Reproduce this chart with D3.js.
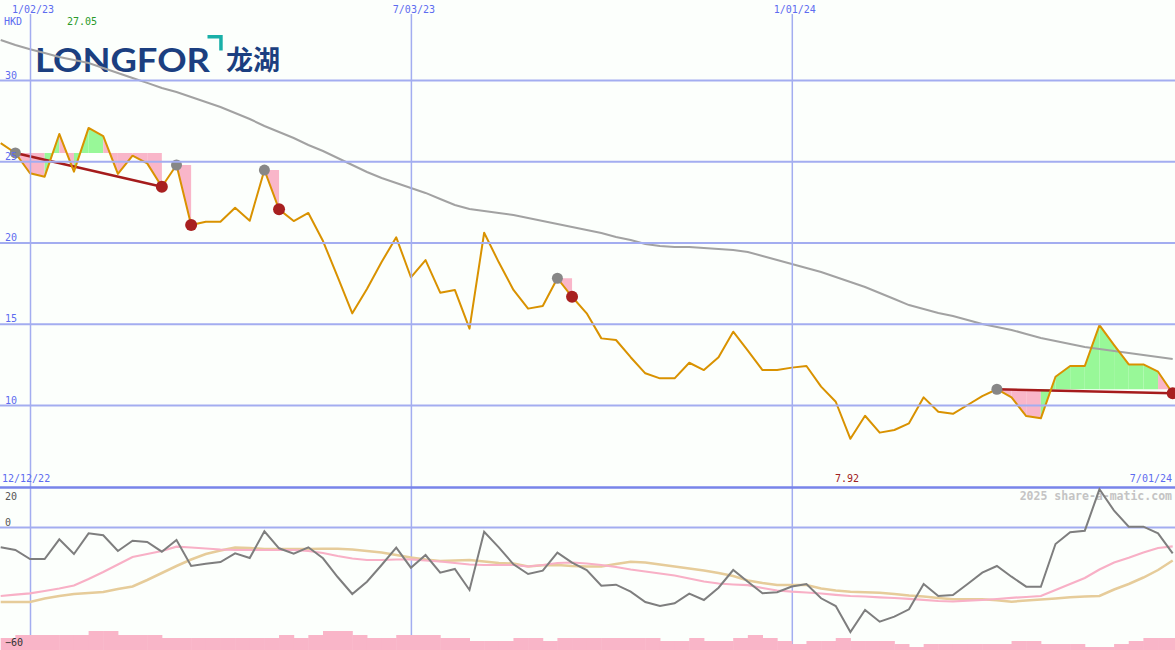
<!DOCTYPE html>
<html><head><meta charset="utf-8">
<script src="https://cdn.jsdelivr.net/npm/d3@7"></script>
<style>
html,body{margin:0;padding:0;background:#fcfffc;}
svg{display:block;}
</style></head><body>
<svg id="c" width="1175" height="650"></svg>
<script>
// ---- data (weekly, week index relative to 1/02/23) ----
const weeks = d3.range(-2, 79);
const price = [
 26.12, 25.51, 24.26, 24.05, 26.68, 24.36, 27.05, 26.55, 24.22, 25.34,
 24.87, 23.43, 24.77, 21.08, 21.28, 21.28, 22.14, 21.34, 24.46, 22.04,
 21.32, 21.82, 20.09, 17.88, 15.64, 17.14, 18.80, 20.32, 17.86, 18.92,
 16.91, 17.08, 14.70, 20.60, 18.78, 17.08, 15.93, 16.09, 17.80, 16.66,
 15.64, 14.10, 14.00, 12.94, 11.95, 11.64, 11.64, 12.60, 12.15, 12.94,
 14.51, 13.34, 12.15, 12.15, 12.30, 12.40, 11.13, 10.20, 7.92, 9.34,
 8.30, 8.46, 8.87, 10.47, 9.59, 9.46, 10.00, 10.55, 10.97, 10.47,
 9.32, 9.18, 11.74, 12.40, 12.40, 14.92, 13.69, 12.50, 12.50, 12.05,
 10.72];
const movingAvg = [
 32.46, 32.15, 31.89, 31.66, 31.42, 31.23, 31.05, 30.74, 30.43, 30.12,
 29.82, 29.51, 29.26, 28.95, 28.65, 28.34, 27.97, 27.60, 27.17, 26.80,
 26.43, 26.00, 25.63, 25.20, 24.77, 24.34, 23.97, 23.66, 23.35, 23.05,
 22.68, 22.31, 22.06, 21.94, 21.82, 21.69, 21.51, 21.32, 21.14, 20.95,
 20.77, 20.58, 20.34, 20.15, 19.91, 19.78, 19.72, 19.72, 19.66, 19.60,
 19.54, 19.42, 19.17, 18.92, 18.68, 18.43, 18.18, 17.88, 17.57, 17.26,
 16.89, 16.52, 16.15, 15.91, 15.66, 15.48, 15.23, 14.98, 14.80, 14.62,
 14.37, 14.12, 13.94, 13.75, 13.57, 13.45, 13.32, 13.20, 13.08, 12.95,
 12.83];
const oscillator = [
 -10.15, -11.5, -16, -16, -6.15, -13.5, -3.15, -4.15, -12, -6.85,
 -7.5, -12.35, -6.5, -19.5, -18.35, -17.5, -13.15, -15.5, -2.15, -10.65,
 -13.35, -10.15, -15.65, -25, -33.5, -27.35, -19, -10.35, -20.35, -14,
 -22.85, -21, -31.5, -2.35, -10.15, -18.65, -23.5, -21.85, -12.85, -17.85,
 -21.5, -29.35, -28.85, -32.35, -37.5, -39.5, -38.15, -33.35, -36.5, -30.35,
 -21.5, -27.35, -33.15, -32.65, -29.75, -28.5, -35.65, -39.5, -52.5, -41.5,
 -47.35, -44.85, -41.15, -28.5, -34.5, -34, -28.5, -22.85, -19.5, -24.85,
 -29.85, -29.85, -8.5, -2.65, -1.85, 18.85, 8.15, 0.15, 0.15, -3.15,
 -13.15];
const oscFast = [
 -34.5, -33.85, -33.15, -32, -30.75, -29.25, -26, -22.5, -18.75, -15,
 -13.5, -12, -9.85, -10.25, -10.75, -11.25, -11.5, -11.5, -11.5, -11.5,
 -11.5, -12, -13, -14.5, -15.75, -16.5, -16.5, -16.25, -16.15, -16.75,
 -17.25, -18, -18.75, -19, -19, -19, -19.75, -19, -18, -17.75,
 -18.25, -19, -20, -21.25, -22.25, -23.25, -24.25, -25.75, -27.25, -28.25,
 -28.75, -29.1, -30.5, -31.75, -32.35, -32.75, -33.25, -33.9, -34.5, -34.75,
 -35.15, -35.5, -35.9, -36.4, -37, -37.25, -36.85, -36.5, -36, -35.4,
 -35, -34.5, -31.5, -28.5, -25.5, -21.25, -17.75, -15.35, -12.75, -10.5,
 -9.65];
const oscSlow = [
 -37.5, -37.5, -37.5, -35.75, -34.5, -33.5, -33, -32.5, -31, -29.75,
 -26.5, -23, -19.5, -16.25, -13.5, -11.75, -10.25, -10.5, -11, -11,
 -11, -11, -10.9, -10.85, -11.25, -12, -12.75, -14, -15.25, -16.25,
 -17, -16.75, -16.5, -17.25, -18, -18.25, -19.75, -19.15, -19, -19.5,
 -19.75, -19.75, -18.5, -17.35, -17.75, -18.75, -19.75, -20.75, -21.75, -23,
 -24.5, -26.75, -28, -29, -29, -29, -30.75, -31.75, -32.4, -32.65,
 -32.85, -33.5, -34.25, -34.75, -35.5, -36.15, -36.15, -36.15, -36.6, -37.35,
 -36.75, -36.25, -35.75, -35.15, -34.75, -34.5, -31.25, -28.5, -25.25, -21.5,
 -16.75];
const volume = [
 12, 15, 15, 15, 15, 15, 19, 19, 15, 15,
 15, 12, 12, 12, 12, 12, 12, 12, 12, 15,
 12, 15, 19, 19, 15, 12, 12, 15, 15, 15,
 12, 12, 9, 9, 9, 12, 12, 9, 12, 12,
 12, 12, 12, 12, 12, 9, 9, 12, 9, 9,
 12, 15, 12, 9, 6, 9, 9, 12, 9, 9,
 9, 6, 3, 6, 6, 6, 6, 6, 6, 9,
 9, 6, 6, 6, 3, 3, 6, 9, 12, 12,
 12];
// signal windows: [start week (peak), end week (low)]
const signals = [[-1, 9], [10, 11], [16, 17], [36, 37], [66, 78]];
const priceTicks = [10, 15, 20, 25, 30];
const dateTickWeeks = [0, 26, 52];
const dateTickLabels = ["1/02/23", "7/03/23", "1/01/24"];
const oscTicks = [20, 0, -60];
const startLabel = "12/12/22", endLabel = "7/01/24";
const highLabel = "27.05", lowLabel = "7.92", currency = "HKD";
const watermark = "2025 share-a-matic.com";

// ---- drawing ----
const W = 1175, H = 650;
const svg = d3.select("#c");
const P = i => price[i];
const idx = k => k + 2;

svg.append("rect").attr("width", W).attr("height", H).attr("fill", "#fcfffc");

const x = d3.scaleLinear().domain([-2, 78]).range([0.7, 1172.7]);
const y = d3.scaleLinear().domain([10, 30]).range([405, 80]);
const y2 = d3.scaleLinear().domain([-60, 20]).range([647, 487]);
const yv = d3.scaleLinear().domain([0, 20]).range([650, 630]);

const mono = "'DejaVu Sans Mono', 'Liberation Mono', monospace";
const blue = "#5d6cf0";

svg.append("defs").append("clipPath").attr("id", "topclip")
  .append("rect").attr("x", 0).attr("y", 0).attr("width", W).attr("height", 486);

const topG = svg.append("g").attr("clip-path", "url(#topclip)");

// logo
const logo = topG.append("g");
logo.append("text").attr("x", 35).attr("y", 71.7)
  .attr("font-family", "Lato, 'Open Sans', sans-serif").attr("font-weight", 700)
  .attr("font-size", 33).attr("fill", "#1b3f80")
  .attr("textLength", 175).attr("lengthAdjust", "spacingAndGlyphs")
  .text("LONGFOR");
logo.append("path").attr("d", "M207.5,35 H222.7 V50.5 H219.2 V38.5 H207.5 Z").attr("fill", "#19b0a8");
logo.append("text").attr("x", 226).attr("y", 69.5)
  .attr("font-family", "'Noto Sans CJK SC', sans-serif").attr("font-weight", 700)
  .attr("font-size", 27).attr("fill", "#1b3f80")
  .attr("textLength", 54).attr("lengthAdjust", "spacingAndGlyphs")
  .text("龙湖");

// signal fills
const fills = topG.append("g");
signals.forEach(([a, b]) => {
  const level = P(idx(a));
  for (let k = a; k < b; k++) {
    const p0 = P(idx(k)), p1 = P(idx(k + 1));
    fills.append("path")
      .attr("d", d3.line()([[x(k), y(level)], [x(k), y(p0)], [x(k + 1), y(p1)], [x(k + 1), y(level)]]) + "Z")
      .attr("fill", p1 > level ? "#98f898" : "#f9b6c9")
      .attr("stroke", "none");
  }
});

// price gridlines and labels
const gy = svg.append("g").call(d3.axisLeft(y).tickValues(priceTicks).tickSize(-W).tickFormat(d3.format("d")));
gy.select(".domain").remove();
gy.selectAll(".tick line").attr("stroke", "#a3adf0").attr("stroke-width", 2);
gy.selectAll(".tick text").attr("x", 5).attr("dy", -2).attr("text-anchor", "start")
  .attr("fill", blue).attr("font-family", mono).attr("font-size", 10);

// vertical date gridlines
const gx = svg.append("g").attr("transform", "translate(0,14)")
  .call(d3.axisBottom(x).tickValues(dateTickWeeks).tickSize(H - 14)
    .tickFormat((d, i) => dateTickLabels[i]));
gx.select(".domain").remove();
gx.selectAll(".tick line").attr("stroke", "#a3adf0").attr("stroke-width", 1.5);
gx.selectAll(".tick text").attr("y", -1.5).attr("dy", 0).attr("x", 2.5).attr("text-anchor", "middle")
  .attr("fill", blue).attr("font-family", mono).attr("font-size", 10);

// header labels
svg.append("text").attr("x", 4).attr("y", 25).attr("fill", blue)
  .attr("font-family", mono).attr("font-size", 10).text(currency);
svg.append("text").attr("x", 67).attr("y", 25).attr("fill", "#2a9a2a")
  .attr("font-family", mono).attr("font-size", 10).text(highLabel);

// moving average
topG.append("path").datum(movingAvg)
  .attr("d", d3.line().x((d, i) => x(weeks[i])).y(d => y(d)))
  .attr("fill", "none").attr("stroke", "#a2a2a2").attr("stroke-width", 2);

// trend lines
signals.forEach(([a, b]) => {
  if (b - a > 1) {
    topG.append("line")
      .attr("x1", x(a)).attr("y1", y(P(idx(a))))
      .attr("x2", x(b)).attr("y2", y(P(idx(b))))
      .attr("stroke", "#a51c1c").attr("stroke-width", 2.5);
  }
});

// price line
topG.append("path").datum(price)
  .attr("d", d3.line().x((d, i) => x(weeks[i])).y(d => y(d)))
  .attr("fill", "none").attr("stroke", "#d99200").attr("stroke-width", 2)
  .attr("stroke-linejoin", "round");

// markers
signals.forEach(([a, b]) => {
  topG.append("circle").attr("cx", x(a)).attr("cy", y(P(idx(a)))).attr("r", 5.5).attr("fill", "#878787");
  topG.append("circle").attr("cx", x(b)).attr("cy", y(P(idx(b)))).attr("r", 6).attr("fill", "#a82020");
});

// ---- lower panel ----
const low = svg.append("g");
low.selectAll("rect.v").data(volume).join("rect").attr("class", "v")
  .attr("x", (d, i) => x(weeks[i]))
  .attr("width", (d, i) => x(weeks[i] + 1) - x(weeks[i]) + 0.5)
  .attr("y", d => yv(d)).attr("height", d => H - yv(d))
  .attr("fill", "#f9b5c8");

const gy2 = svg.append("g").call(d3.axisLeft(y2).tickValues(oscTicks).tickSize(-W).tickFormat(d3.format("d")));
gy2.select(".domain").remove();
gy2.selectAll(".tick line")
  .attr("stroke", d => d === 20 ? "#7884ea" : d === 0 ? "#a3adf0" : "none")
  .attr("stroke-width", d => d === 20 ? 2.5 : 2);
gy2.selectAll(".tick text").attr("x", 5).attr("text-anchor", "start")
  .attr("dy", d => d === 20 ? 12.5 : -1.5)
  .attr("fill", d => d === -60 ? "#333" : "#555").attr("font-family", mono).attr("font-size", 10);

svg.append("text").attr("x", 2).attr("y", 482).attr("fill", blue)
  .attr("font-family", mono).attr("font-size", 10).text(startLabel);
svg.append("text").attr("x", 835).attr("y", 482).attr("fill", "#a02020")
  .attr("font-family", mono).attr("font-size", 10).text(lowLabel);
svg.append("text").attr("x", 1172).attr("y", 482).attr("text-anchor", "end").attr("fill", blue)
  .attr("font-family", mono).attr("font-size", 10).text(endLabel);

svg.append("text").attr("x", 1172).attr("y", 500).attr("text-anchor", "end")
  .attr("fill", "#c4c4c4").attr("font-family", mono).attr("font-weight", 700)
  .attr("font-size", 11.5).text(watermark);

const lineLow = d3.line().x((d, i) => x(weeks[i])).y(d => y2(d));
low.append("path").datum(oscSlow).attr("d", lineLow)
  .attr("fill", "none").attr("stroke", "#e6cc9a").attr("stroke-width", 2.5);
low.append("path").datum(oscFast).attr("d", lineLow)
  .attr("fill", "none").attr("stroke", "#f8b0c6").attr("stroke-width", 2.2);
svg.append("path").datum(oscillator).attr("d", lineLow)
  .attr("fill", "none").attr("stroke", "#7e7e7e").attr("stroke-width", 2);
</script></body></html>
